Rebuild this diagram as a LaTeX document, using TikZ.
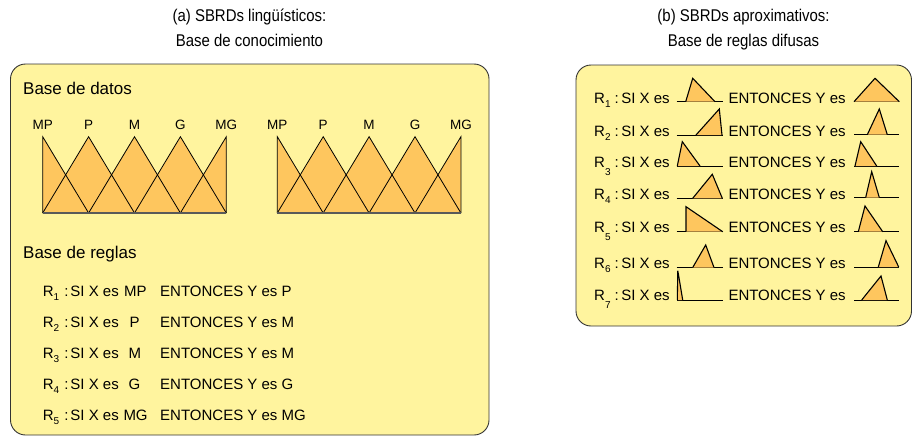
\documentclass[tikz,border=0pt]{standalone}
\usepackage{fontspec}
\setmainfont{Liberation Sans}
\definecolor{bgy}{RGB}{255,244,158}
\definecolor{mfo}{RGB}{254,198,94}
\newcommand\Rsub[1]{R\raisebox{-4pt}{\fontsize{10}{10}\selectfont #1}}
\newcommand\Rlow[1]{R\raisebox{-8pt}{\fontsize{10}{10}\selectfont #1}}
\newcommand\ttltext[1]{\scalebox{0.88}[1]{#1}}
\begin{document}
\begin{tikzpicture}[x=1pt,y=-1pt,
  panel/.style={draw=black!80, line width=0.9pt, fill=bgy, rounded corners=15pt},
  mfline/.style={draw=black, line width=0.8pt, line join=miter},
  baseln/.style={draw=black!65, line width=1.4pt},
  mini/.style={fill=mfo, draw=black, line width=1.1pt, line join=miter},
  miniln/.style={draw=black, line width=0.9pt},
  ttl/.style={font=\fontsize{17}{20}\selectfont, anchor=base, inner sep=0pt},
  head/.style={font=\fontsize{17}{20}\selectfont, anchor=base west, inner sep=0pt},
  lbl/.style={font=\fontsize{13.5}{16}\selectfont, anchor=base, inner sep=0pt},
  rule/.style={font=\fontsize{15}{18}\selectfont, anchor=base west, inner sep=0pt}
]
\useasboundingbox (0,0) rectangle (913,439);
% titles
\node[ttl] (ta1) at (249.5,21) {\ttltext{(a) SBRDs lingüísticos:}};
\node[ttl] (ta2) at (249.5,46) {\ttltext{Base de conocimiento}};
\node[ttl] (tb1) at (743.5,21) {\ttltext{(b) SBRDs aproximativos:}};
\node[ttl] (tb2) at (743.5,46) {\ttltext{Base de reglas difusas}};
% panels
\path[panel] (10.5,64) rectangle (489,435);
\path[panel] (576,65) rectangle (911.5,326);
% left panel
\node[head] (bd) at (23,94.7) {Base de datos};
\node[head] (br) at (23,258) {Base de reglas};
\foreach \ox/\nm in {42.7/A,277.3/B}{
  \begin{scope}[shift={(\ox,0)}]
    \def\t{136.7}\def\b{213}\def\d{45.9}
    \fill[mfo] (0,\b) -- (0,\t) -- (\d,\b) -- cycle;
    \fill[mfo] (0,\b) -- (\d,\t) -- (2*\d,\b) -- cycle;
    \fill[mfo] (\d,\b) -- (2*\d,\t) -- (3*\d,\b) -- cycle;
    \fill[mfo] (2*\d,\b) -- (3*\d,\t) -- (4*\d,\b) -- cycle;
    \fill[mfo] (3*\d,\b) -- (4*\d,\t) -- (4*\d,\b) -- cycle;
    \path[mfline] (0,\b) -- (0,\t) -- (\d,\b);
    \path[mfline] (0,\b) -- (\d,\t) -- (2*\d,\b);
    \path[mfline] (\d,\b) -- (2*\d,\t) -- (3*\d,\b);
    \path[mfline] (2*\d,\b) -- (3*\d,\t) -- (4*\d,\b);
    \path[mfline] (3*\d,\b) -- (4*\d,\t) -- (4*\d,\b);
    \path[baseln] (0,\b) -- (4*\d,\b);
    \node[lbl] (mp\nm) at (0,129) {MP};
    \node[lbl] (p\nm) at (\d,129) {P};
    \node[lbl] (m\nm) at (2*\d,129) {M};
    \node[lbl] (g\nm) at (3*\d,129) {G};
    \node[lbl] (mg\nm) at (4*\d,129) {MG};
  \end{scope}
}
% linguistic rules
\newcommand\LR[1]{\Rsub{#1}\hspace{5pt}:\hspace{2pt}SI X es}
\node[rule] (l1a) at (42.7,296.7) {\LR{1}};
\node[rule] (l1b) at (124,296.7) {MP};
\node[rule] (l1c) at (160,296.7) {ENTONCES Y es P};
\node[rule] (l2a) at (42.7,327.5) {\LR{2}};
\node[rule] (l2b) at (129.3,327.5) {P};
\node[rule] (l2c) at (160,327.5) {ENTONCES Y es M};
\node[rule] (l3a) at (42.7,358.3) {\LR{3}};
\node[rule] (l3b) at (128.3,358.3) {M};
\node[rule] (l3c) at (160,358.3) {ENTONCES Y es M};
\node[rule] (l4a) at (42.7,389) {\LR{4}};
\node[rule] (l4b) at (128.3,389) {G};
\node[rule] (l4c) at (160,389) {ENTONCES Y es G};
\node[rule] (l5a) at (42.7,420) {\LR{5}};
\node[rule] (l5b) at (123.3,420) {MG};
\node[rule] (l5c) at (160,420) {ENTONCES Y es MG};
% approximate rules: text
\newcommand\AR[1]{\Rsub{#1}\hspace{4pt}:\hspace{2.5pt}SI X es}
\newcommand\ARl[1]{\Rlow{#1}\hspace{4pt}:\hspace{2.5pt}SI X es}
\node[rule] (r1a) at (594,103) {\AR{1}};
\node[rule] (r1c) at (728.3,103) {ENTONCES Y es};
\node[rule] (r2a) at (594,136) {\AR{2}};
\node[rule] (r2c) at (728.3,136) {ENTONCES Y es};
\node[rule] (r3a) at (594,167.3) {\ARl{3}};
\node[rule] (r3c) at (728.3,167.3) {ENTONCES Y es};
\node[rule] (r4a) at (594,199.5) {\AR{4}};
\node[rule] (r4c) at (728.3,199.5) {ENTONCES Y es};
\node[rule] (r5a) at (594,232.5) {\ARl{5}};
\node[rule] (r5c) at (728.3,232.5) {ENTONCES Y es};
\node[rule] (r6a) at (594,268.5) {\AR{6}};
\node[rule] (r6c) at (728.3,268.5) {ENTONCES Y es};
\node[rule] (r7a) at (594,300.5) {\ARl{7}};
\node[rule] (r7c) at (728.3,300.5) {ENTONCES Y es};
% mini fuzzy sets: antecedents
\path[miniln] (676.7,101.7) -- (722.7,101.7);
\path[mini] (685.7,101.7) -- (692.7,78.3) -- (715,101.7);
\path[miniln] (676.7,135) -- (722.7,135);
\path[mini] (696,135) -- (719.3,109) -- (722,135);
\path[miniln] (676.7,166) -- (722.7,166);
\path[mini] (677.3,166) -- (682.3,141.7) -- (700,166);
\path[miniln] (676.7,198.3) -- (722.7,198.3);
\path[mini] (692.7,198.3) -- (712.3,174.3) -- (722.3,198.3);
\path[miniln] (676.7,231.7) -- (722.7,231.7);
\path[mini] (686,231.7) -- (686,206.7) -- (722.7,231.7);
\path[miniln] (676.7,267.5) -- (722.7,267.5);
\path[mini] (692.7,267.5) -- (705.7,245) -- (714,267.5);
\path[miniln] (677,300) -- (722.7,300);
\path[mini] (677.3,300) -- (677.8,270.7) -- (682.7,300);
% mini fuzzy sets: consequents
\path[miniln] (854,101.7) -- (899.3,101.7);
\path[mini] (854,101.7) -- (875,78.3) -- (899.3,101.7);
\path[miniln] (854,134.7) -- (899.3,134.7);
\path[mini] (867.3,134.7) -- (879.3,109) -- (887.3,134.7);
\path[miniln] (854,166) -- (899.3,166);
\path[mini] (855,166) -- (860.7,141.7) -- (876.7,166);
\path[miniln] (854,197.5) -- (899.3,197.5);
\path[mini] (865.7,197.5) -- (871.7,171.7) -- (879.3,197.5);
\path[miniln] (854,231.7) -- (899.3,231.7);
\path[mini] (858.3,231.7) -- (865,206) -- (882.7,231.7);
\path[miniln] (854,267) -- (899.3,267);
\path[mini] (878.3,267) -- (886,240.7) -- (898.7,267);
\path[miniln] (854,300) -- (899.3,300);
\path[mini] (861.7,300) -- (881,276) -- (887.3,300);
\end{tikzpicture}
\end{document}
